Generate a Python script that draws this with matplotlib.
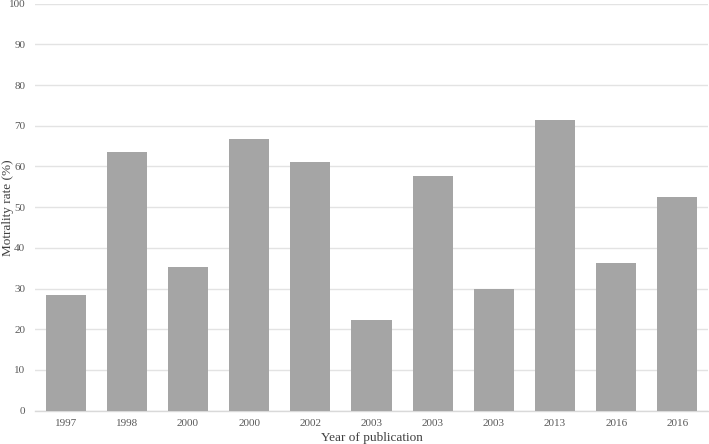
import numpy as np
import matplotlib
matplotlib.use("Agg")
import matplotlib.pyplot as plt

# Data
years = ["1997", "1998", "2000", "2000", "2002", "2003", "2003", "2003", "2013", "2016", "2016"]
mortality = [28.5, 63.6, 35.3, 66.7, 61.0, 22.2, 57.7, 30.0, 71.4, 36.4, 52.4]
yticks = list(range(0, 101, 10))

plt.rcParams['font.family'] = ['Liberation Serif', 'DejaVu Serif']

fig = plt.figure(figsize=(7.09, 4.44), dpi=100)
ax = fig.add_axes([0.0494, 0.075, 0.9492, 0.9167])

x = np.arange(len(years))
ax.bar(x, mortality, width=0.655, color="#a5a5a5", zorder=3)

ax.set_xlim(-0.5, len(years) - 0.5)
ax.set_ylim(0, 100)
ax.set_xticks(x)
ax.set_xticklabels(years)
ax.set_yticks(yticks)

ax.grid(axis="y", color="#e3e3e3", linewidth=1.0, zorder=0)
for s in ["top", "right", "left"]:
    ax.spines[s].set_visible(False)
ax.spines["bottom"].set_color("#d9d9d9")
ax.spines["bottom"].set_linewidth(1.0)
ax.tick_params(axis="both", length=0, labelsize=8, labelcolor="#595959")
ax.tick_params(axis="x", pad=6)
ax.tick_params(axis="y", pad=7)

ax.set_xlabel("Year of publication", fontsize=9.5, color="#404040")
ax.xaxis.set_label_coords(0.5, -0.052)
ax.set_ylabel("Motrality rate (%)", fontsize=9.5, color="#404040")
ax.yaxis.set_label_coords(-0.031, 0.5)

fig.savefig("out.png", dpi=100)
